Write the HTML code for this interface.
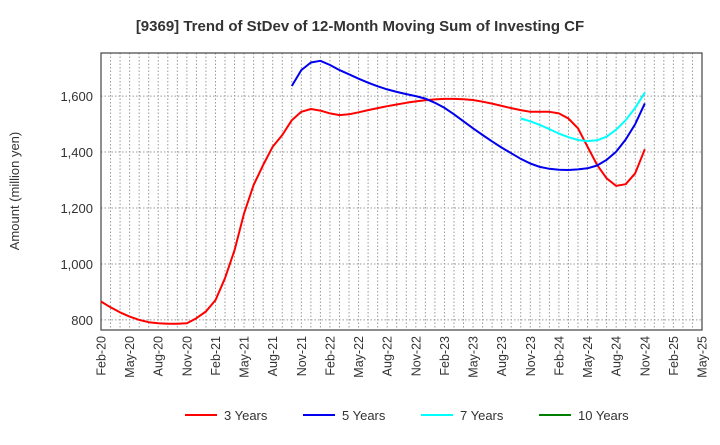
<!DOCTYPE html>
<html><head><meta charset="utf-8"><style>
body{margin:0;background:#fff;font-family:"Liberation Sans",Arial,sans-serif}
svg text{font-family:"Liberation Sans",Arial,sans-serif}
</style></head><body>
<svg id="chart" width="720" height="440" xmlns="http://www.w3.org/2000/svg">
<text x="360" y="31" text-anchor="middle" font-size="15" font-weight="bold" fill="#333">[9369]  Trend of StDev of 12-Month Moving Sum of Investing CF</text>
<text transform="translate(19,191) rotate(-90)" text-anchor="middle" font-size="13" fill="#333">Amount (million yen)</text>
<g id="grid"></g>
<g id="axes"></g>
<g id="series"></g>
<g id="legend"></g>
</svg>
<script>
const xTickLabels=["Feb-20","May-20","Aug-20","Nov-20","Feb-21","May-21","Aug-21","Nov-21","Feb-22","May-22","Aug-22","Nov-22","Feb-23","May-23","Aug-23","Nov-23","Feb-24","May-24","Aug-24","Nov-24","Feb-25","May-25"];
const yTicks=[800,1000,1200,1400,1600];
const red3=[866,845,827,812,800,792,788,786,786,788,806,830,871,949,1050,1181,1282,1354,1419,1461,1514,1544,1554,1548,1538,1532,1535,1542,1550,1557,1564,1570,1576,1581,1585,1588,1590,1590,1589,1586,1580,1573,1565,1557,1550,1544,1544,1544,1538,1520,1485,1419,1354,1306,1279,1285,1324,1410];
const blue5Start=20;
const blue5=[1636,1693,1720,1726,1711,1693,1678,1662,1648,1635,1624,1615,1607,1600,1591,1576,1558,1535,1510,1485,1461,1438,1416,1396,1376,1359,1347,1340,1337,1336,1338,1342,1352,1372,1401,1445,1500,1574];
const cyan7Start=44;
const cyan7=[1520,1510,1497,1482,1466,1453,1443,1439,1442,1455,1480,1514,1558,1612];
const green10=[];
const L=101,R=702,T=53,B=330,NM=63,YMIN=764,YMAX=1754;
const xs=i=>L+i*(R-L)/NM;
const ys=v=>B-(v-YMIN)/(YMAX-YMIN)*(B-T);
const NS="http://www.w3.org/2000/svg";
function mk(tag,attrs,parent){const e=document.createElementNS(NS,tag);for(const k in attrs)e.setAttribute(k,attrs[k]);parent.appendChild(e);return e;}
const grid=document.getElementById('grid'),axes=document.getElementById('axes'),series=document.getElementById('series'),legend=document.getElementById('legend');
for(let m=1;m<=NM;m++){const l=mk('line',{x1:xs(m),x2:xs(m),y1:T,y2:B,stroke:'#999','stroke-dasharray':'1.5,2','stroke-width':1},grid);

}
yTicks.forEach(v=>{const l=mk('line',{x1:L,x2:R,y1:ys(v),y2:ys(v),stroke:'#999','stroke-dasharray':'1.5,2','stroke-width':1},grid);


const t=mk('text',{x:L-8,y:ys(v)+5,'text-anchor':'end','font-size':13,fill:'#333'},axes);t.textContent=v.toLocaleString('en-US');

});
const fr=mk('rect',{x:L,y:T,width:R-L,height:B-T,fill:'none',stroke:'#444','stroke-width':1.2},axes);


xTickLabels.forEach((s,i)=>{const x=xs(i*3);const t=mk('text',{transform:`translate(${x+4.5},336) rotate(-90)`,'text-anchor':'end','font-size':12.5,fill:'#333'},axes);t.textContent=s;

});
function line(arr,start,color,name){if(!arr.length)return;const p=arr.map((v,i)=>xs(start+i).toFixed(1)+','+ys(v).toFixed(1)).join(' ');
const e=mk('polyline',{points:p,fill:'none',stroke:color,'stroke-width':2,'stroke-linejoin':'round'},series);

}
line(red3,0,'#ff0000','line-3-years');
line(blue5,blue5Start,'#0000ee','line-5-years');
line(cyan7,cyan7Start,'#00ffff','line-7-years');
line(green10,0,'#008000','line-10-years');
const leg=[["3 Years","#ff0000",185],["5 Years","#0000ee",303],["7 Years","#00ffff",421],["10 Years","#008000",539]];
leg.forEach(([n,c,x])=>{const g=mk('g',{},legend);


mk('line',{x1:x,x2:x+32,y1:415,y2:415,stroke:c,'stroke-width':2},g);
const t=mk('text',{x:x+39,y:420,'font-size':13,fill:'#333'},g);t.textContent=n;});
</script>
</body></html>
